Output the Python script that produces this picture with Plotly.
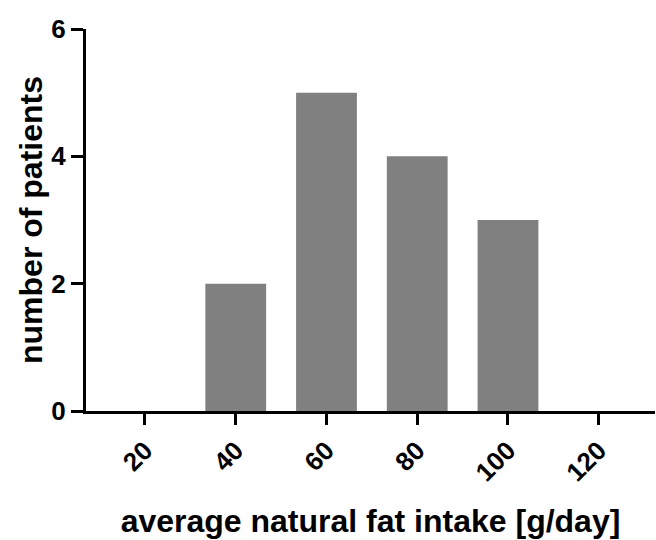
import plotly.graph_objects as go

categories = ["20", "40", "60", "80", "100", "120"]
patients = [0, 2, 5, 4, 3, 0]
y_ticks = [0, 2, 4, 6]

font_family = "Liberation Sans, Arial, sans-serif"

fig = go.Figure()
fig.add_trace(go.Bar(
    x=list(range(len(categories))),
    y=patients,
    width=0.67,
    marker=dict(color="#808080", line=dict(width=0)),
))

fig.update_layout(
    width=656, height=540,
    margin=dict(l=86, r=1, t=29, b=129),
    plot_bgcolor="white", paper_bgcolor="white",
    showlegend=False,
    font=dict(family=font_family, color="black"),
)
fig.update_xaxes(
    range=[-0.65, 5.62],
    tickmode="array",
    tickvals=list(range(len(categories))),
    ticktext=["<b>%s</b>" % c for c in categories],
    tickangle=-45,
    ticks="outside", ticklen=11, tickwidth=3, tickcolor="black",
    showline=True, linewidth=3, linecolor="black",
    showgrid=False, zeroline=False, automargin=False,
    tickfont=dict(size=26, family=font_family, color="black"),
    title=dict(text="<b>average natural fat intake [g/day]</b>",
               font=dict(size=32, family=font_family, color="black"),
               standoff=24),
)
fig.update_yaxes(
    range=[0, 6],
    tickmode="array",
    tickvals=y_ticks,
    ticktext=["<b>%d</b>" % v for v in y_ticks],
    ticks="outside", ticklen=12, tickwidth=3, tickcolor="black",
    showline=True, linewidth=3, linecolor="black",
    showgrid=False, zeroline=False, automargin=False,
    tickfont=dict(size=26, family=font_family, color="black"),
    title=dict(text="<b>number of patients</b>",
               font=dict(size=32, family=font_family, color="black"),
               standoff=0),
)

fig.write_html("out.html")
